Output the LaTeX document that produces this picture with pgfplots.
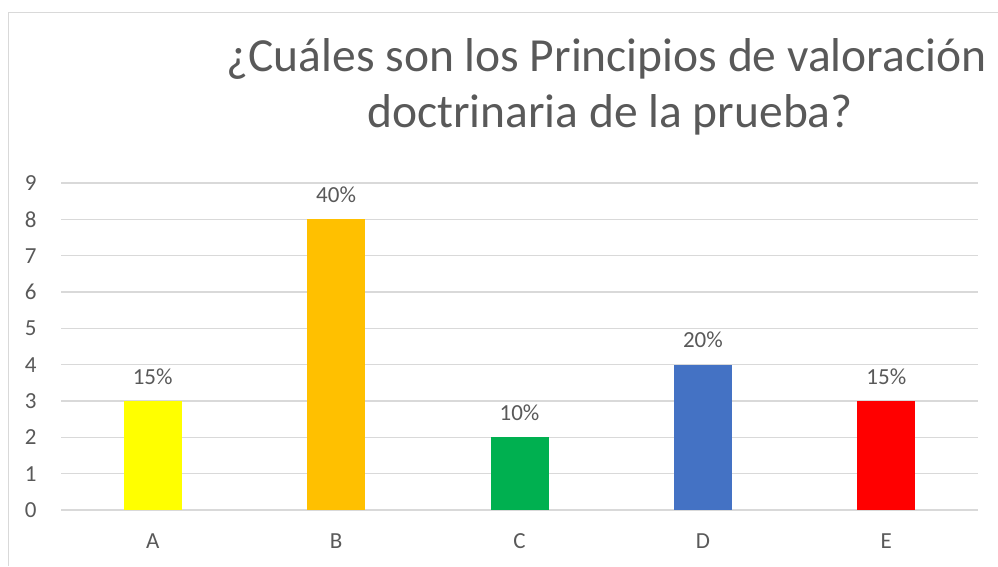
\documentclass[border=0pt]{standalone}
\usepackage{fontspec}
\setmainfont{Carlito}
\usepackage{pgfplots}
\pgfplotsset{compat=1.18}
\definecolor{gridc}{HTML}{D9D9D9}
\definecolor{txt}{HTML}{595959}
\definecolor{cA}{HTML}{FFFF00}
\definecolor{cB}{HTML}{FFC000}
\definecolor{cC}{HTML}{00B050}
\definecolor{cD}{HTML}{4472C4}
\definecolor{cE}{HTML}{FF0000}
\begin{document}
\begin{tikzpicture}
\path[use as bounding box] (0pt,0pt) rectangle (998pt,566pt);
\draw[gridc, line width=1.2pt] (8.5pt,0pt) -- (8.5pt,553.5pt) -- (998pt,553.5pt);
\node[txt, font=\fontsize{47.5}{56}\selectfont, anchor=base, inner sep=0pt] at (606.5pt,494pt) {¿Cuáles son los Principios de valoración};
\node[txt, font=\fontsize{47.5}{56}\selectfont, anchor=base, inner sep=0pt] at (610pt,438pt) {doctrinaria de la prueba?};
\begin{axis}[at={(152.7pt,56pt)}, anchor=origin, scale only axis,
  width=917pt, height=327pt,
  xmin=-0.5, xmax=4.5, ymin=0, ymax=9,
  ytick={0,...,9}, xtick={0,...,4}, xticklabels={A,B,C,D,E},
  axis line style={draw=none},
  ymajorgrids, grid style={gridc, line width=1.2pt},
  major tick length=0pt,
  tick label style={txt, font=\fontsize{23}{27}\selectfont},
  yticklabel style={xshift=-21pt},
  xticklabel style={yshift=-20pt},
  /pgf/number format/assume math mode=true,
  ybar, bar width=58pt, bar shift=0pt,
  nodes near coords, point meta=explicit symbolic,
  every node near coord/.append style={txt, font=\fontsize{23}{27}\selectfont, yshift=13pt},
  clip=false]
\addplot[draw=none, fill=cA] coordinates {(0,3) [15\%]};
\addplot[draw=none, fill=cB] coordinates {(1,8) [40\%]};
\addplot[draw=none, fill=cC] coordinates {(2,2) [10\%]};
\addplot[draw=none, fill=cD] coordinates {(3,4) [20\%]};
\addplot[draw=none, fill=cE] coordinates {(4,3) [15\%]};
\end{axis}
\end{tikzpicture}
\end{document}
